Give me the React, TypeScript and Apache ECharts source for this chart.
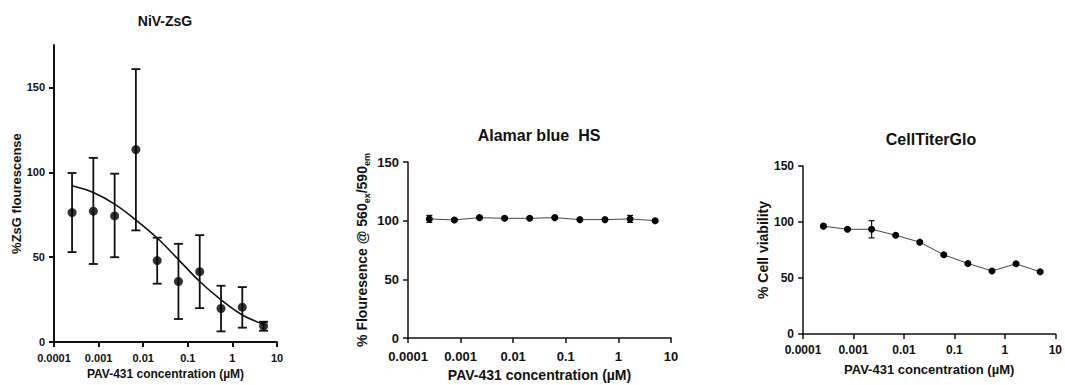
import React, { useEffect, useRef } from "react";
import * as echarts from "echarts";

// Concentrations (µM), 3-fold dilution series
const conc = [0.000254, 0.000762, 0.00229, 0.00686, 0.0206, 0.0617, 0.185, 0.556, 1.667, 5];
const xTickValues = [0.0001, 0.001, 0.01, 0.1, 1, 10];
const xTickLabels = ["0.0001", "0.001", "0.01", "0.1", "1", "10"];
const yTickValues = [0, 50, 100, 150];

// Panel 1: NiV-ZsG
const zsgMean = [76.3, 77.1, 74.3, 113.4, 48, 35.7, 41.5, 19.8, 20.6, 9.5];
const zsgHigh = [99.6, 108.5, 99.2, 160.8, 61.5, 57.9, 63, 33.2, 32.4, 12];
const zsgLow = [53, 46, 50, 65.8, 34.4, 13.6, 20, 6.3, 8.5, 6.7];
const zsgFit = [92.1, 88.1, 81.3, 71.9, 61.3, 48.6, 35.7, 24.9, 16, 10.5];

// Panel 2: Alamar blue HS
const alamarMean = [101.5, 100.6, 102.6, 102, 102, 102.6, 100.9, 100.9, 101.5, 100];
const alamarSd = [3, 1, 1, 1, 1, 1, 1, 1, 3, 1];

// Panel 3: CellTiterGlo
const ctgMean = [96.3, 93.5, 93.5, 88.2, 82, 70.7, 63, 56.3, 62.7, 55.5];
const ctgSd = [1, 1, 7.7, 1, 1, 1, 1, 1, 1, 1];

const FONT = '"Liberation Sans", Arial, Helvetica, sans-serif';

function errorSeries(idx: number, hi: number[], lo: number[], cap: number, lw: number) {
  return {
    type: "custom",
    xAxisIndex: idx,
    yAxisIndex: idx,
    z: 3,
    silent: true,
    data: conc.map((c, i) => [c, hi[i], lo[i]]),
    renderItem: (params: any, api: any) => {
      const top = api.coord([api.value(0), api.value(1)]);
      const bot = api.coord([api.value(0), api.value(2)]);
      const style = { stroke: "#111", lineWidth: lw, fill: null };
      return {
        type: "group",
        children: [
          { type: "line", shape: { x1: top[0], y1: top[1], x2: bot[0], y2: bot[1] }, style },
          { type: "line", shape: { x1: top[0] - cap, y1: top[1], x2: top[0] + cap, y2: top[1] }, style },
          { type: "line", shape: { x1: bot[0] - cap, y1: bot[1], x2: bot[0] + cap, y2: bot[1] }, style },
        ],
      };
    },
  };
}

function xAxisCfg(idx: number, fs: number, lw: number, margin: number, nameGap: number) {
  return {
    type: "log",
    gridIndex: idx,
    logBase: 10,
    min: 0.0001,
    max: 10,
    name: "PAV-431 concentration (µM)",
    nameLocation: "middle",
    nameGap,
    nameTextStyle: { fontFamily: FONT, fontWeight: "bold", fontSize: fs + 1, color: "#111" },
    axisLine: { show: true, lineStyle: { color: "#111", width: lw } },
    axisTick: { show: true, length: 5, lineStyle: { color: "#111", width: lw }, customValues: xTickValues },
    minorTick: { show: false },
    splitLine: { show: false },
    axisLabel: {
      customValues: xTickValues,
      fontFamily: FONT,
      fontWeight: "bold",
      fontSize: fs,
      color: "#111",
      margin,
      formatter: (v: number) => xTickLabels[Math.round(Math.log10(v)) + 4],
    },
  };
}

function yAxisCfg(idx: number, max: number, name: string, fs: number, nfs: number, lw: number, nameGap: number, rich?: any) {
  return {
    type: "value",
    gridIndex: idx,
    min: 0,
    max,
    interval: 50,
    name,
    nameLocation: "middle",
    nameGap,
    nameRotate: 90,
    nameTextStyle: { fontFamily: FONT, fontWeight: "bold", fontSize: nfs, color: "#111", rich },
    axisLine: { show: true, lineStyle: { color: "#111", width: lw } },
    axisTick: { show: true, length: 5, lineStyle: { color: "#111", width: lw }, customValues: yTickValues },
    splitLine: { show: false },
    axisLabel: {
      customValues: yTickValues,
      fontFamily: FONT,
      fontWeight: "bold",
      fontSize: fs,
      color: "#111",
      margin: 9,
    },
  };
}

function titleText(x: number, y: number, text: string, size: number) {
  return {
    type: "text",
    x,
    y,
    style: {
      text,
      font: `bold ${size}px ${FONT}`,
      fill: "#111",
      align: "center",
      verticalAlign: "middle",
      textAlign: "center",
      textVerticalAlign: "middle",
    },
  };
}

export default function App() {
  const ref = useRef<HTMLDivElement>(null);
  useEffect(() => {
    if (!ref.current) return;
    const chart = echarts.init(ref.current, undefined, { renderer: "svg" });
    const option: any = {
      animation: false,
      backgroundColor: "#ffffff",
      grid: [
        { left: 54, top: 45, width: 223, height: 297.5 },
        { left: 408, top: 162, width: 263, height: 176 },
        { left: 803, top: 166, width: 253, height: 168 },
      ],
      xAxis: [
        xAxisCfg(0, 11, 2, 10, 25),
        xAxisCfg(1, 13, 1.5, 12, 30),
        xAxisCfg(2, 12, 1.5, 10, 29),
      ],
      yAxis: [
        yAxisCfg(0, 175, "%ZsG flourescense", 11, 13, 2, 30),
        yAxisCfg(1, 150, "% Flouresence @ 560{sub|ex}/590{sub|em}", 13, 14, 1.5, 37, {
          sub: { fontFamily: FONT, fontWeight: "bold", fontSize: 9, color: "#111", verticalAlign: "bottom", lineHeight: 18 },
        }),
        yAxisCfg(2, 150, "% Cell viability", 12, 14, 1.5, 33),
      ],
      graphic: [
        titleText(165, 21, "NiV-ZsG", 14),
        titleText(539, 135, "Alamar blue  HS", 16),
        titleText(931, 139, "CellTiterGlo", 16),
      ],
      series: [
        {
          type: "line",
          xAxisIndex: 0,
          yAxisIndex: 0,
          data: conc.map((c, i) => [c, zsgFit[i]]),
          smooth: 0.4,
          showSymbol: false,
          symbol: "none",
          lineStyle: { color: "#111", width: 1.6 },
          z: 2,
        },
        errorSeries(0, zsgHigh, zsgLow, 4.5, 1.8),
        {
          type: "scatter",
          xAxisIndex: 0,
          yAxisIndex: 0,
          data: conc.map((c, i) => [c, zsgMean[i]]),
          symbol: "circle",
          symbolSize: 9,
          itemStyle: { color: "#000" },
          z: 5,
        },
        errorSeries(1, alamarMean.map((m, i) => m + alamarSd[i]), alamarMean.map((m, i) => m - alamarSd[i]), 3, 1.2),
        {
          type: "line",
          xAxisIndex: 1,
          yAxisIndex: 1,
          data: conc.map((c, i) => [c, alamarMean[i]]),
          symbol: "circle",
          symbolSize: 7,
          itemStyle: { color: "#000" },
          lineStyle: { color: "#444", width: 1 },
          z: 5,
        },
        errorSeries(2, ctgMean.map((m, i) => m + ctgSd[i]), ctgMean.map((m, i) => m - ctgSd[i]), 3, 1.2),
        {
          type: "line",
          xAxisIndex: 2,
          yAxisIndex: 2,
          data: conc.map((c, i) => [c, ctgMean[i]]),
          symbol: "circle",
          symbolSize: 7,
          itemStyle: { color: "#000" },
          lineStyle: { color: "#444", width: 1 },
          z: 5,
        },
      ],
    };
    chart.setOption(option);
    return () => chart.dispose();
  }, []);
  return (
    <div
      ref={ref}
      style={{ position: "fixed", left: 0, top: 0, width: 1065, height: 385, background: "#fff" }}
    />
  );
}
